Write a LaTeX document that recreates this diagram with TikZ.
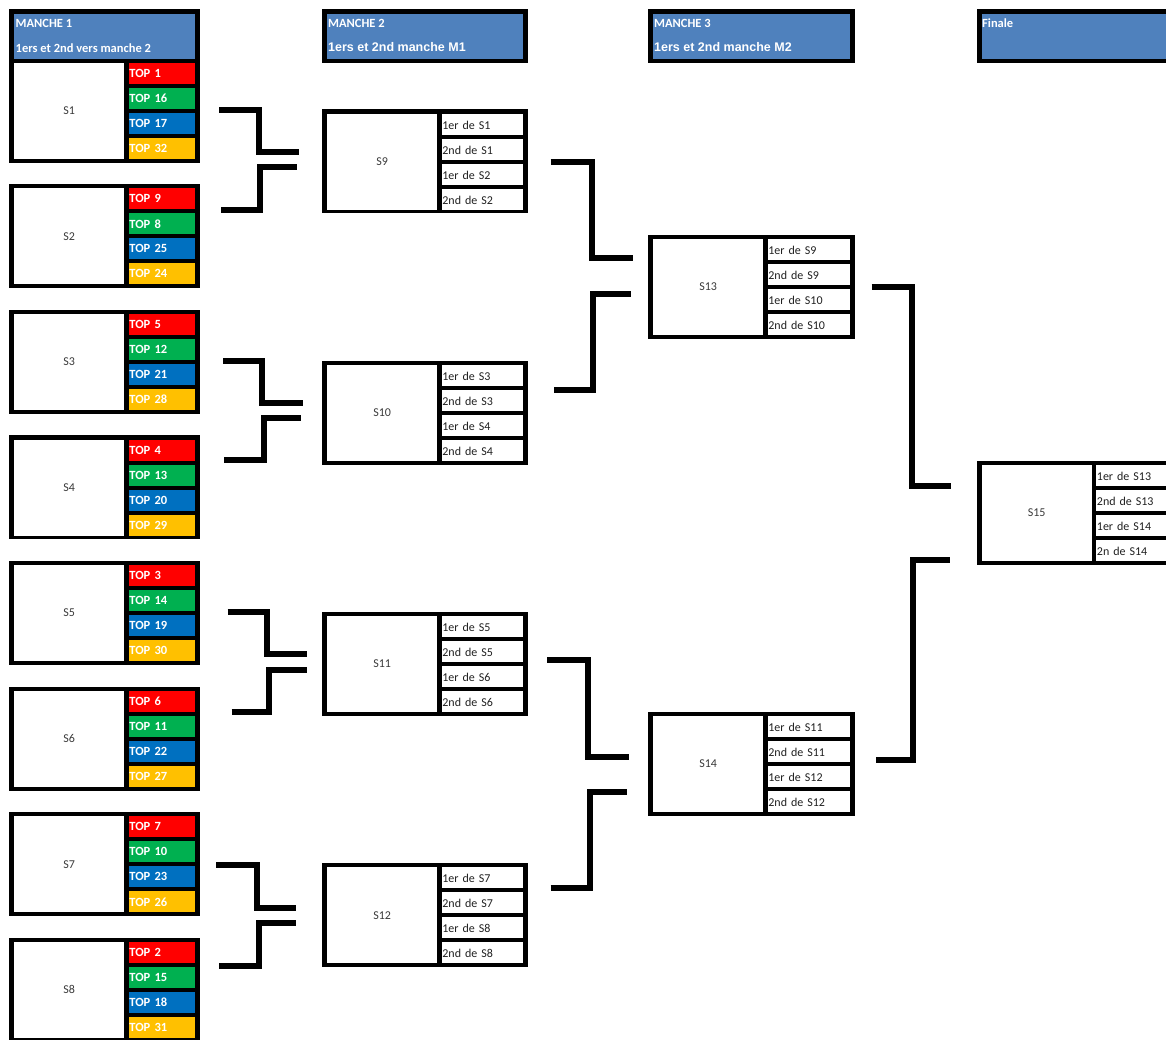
\documentclass[tikz,border=0pt]{standalone}
\usepackage{fontspec}
\setmainfont{Carlito}
\newfontfamily\hdfont{Liberation Sans}
\definecolor{hdblue}{HTML}{4F81BD}
\definecolor{cred}{HTML}{FF0000}
\definecolor{cgreen}{HTML}{00B050}
\definecolor{cblue}{HTML}{0070C0}
\definecolor{cyellow}{HTML}{FFC000}
\definecolor{lbl}{HTML}{3A3A3A}
\definecolor{celltxt}{HTML}{202020}
\tikzset{
  mainbox/.style={fill=white, draw=none, inner sep=0pt, anchor=north west,
    minimum width=110pt, minimum height=96pt, text=lbl,
    font=\fontsize{12}{14}\selectfont},
  cellbase/.style={draw=none, inner ysep=0pt, inner xsep=0.7pt, anchor=north west,
    minimum height=21pt, align=left},
  topcell/.style={cellbase, text=white, font=\bfseries\fontsize{12.5}{14}\selectfont},
  seedcell/.style={cellbase, text=celltxt, text height=10.5pt, text depth=0pt,
    font=\fontsize{12}{14}\selectfont},
  hdtxt/.style={anchor=west, inner sep=0pt, text=white, font=\bfseries\fontsize{12.5}{14}\selectfont},
  hdtxtb/.style={anchor=west, inner sep=0pt, text=white, font=\hdfont\bfseries\fontsize{12.5}{14}\selectfont},
  hdbox/.style={fill=hdblue, draw=none, inner sep=0pt, anchor=north west},
  conn/.style={line width=6pt, line join=miter, line cap=butt}
}
% #1 name, #2 x0, #3 y0, #4 x1, #5 label, #6 cell style, #7 list text/colour
\newcommand\blk[7]{%
  \fill[black] (#2,#3) rectangle (#4,{#3+104});
  \node[mainbox] (#1) at ({#2+5},{#3+4}) {#5};
  \pgfmathsetmacro\cw{#4-#2-124.5-1.4}
  \foreach \txt/\col [count=\i from 0] in {#7} {
    \node[#6, fill=\col, text width=\cw pt] (#1c\i) at ({#2+119.5},{#3+4+25*\i}) {\txt};
  }
}
% #1 name, #2 xa, #3 ya, #4 xm, #5 xb, #6 yb
\newcommand\bracket[6]{%
  \coordinate (#1s) at (#2,#3);
  \coordinate (#1e) at (#5,#6);
  \draw[conn] (#1s) -| (#4,#6) -- (#1e);
}
\begin{document}
\begin{tikzpicture}[x=1pt,y=-1pt]
\useasboundingbox (0,0) rectangle (1166,1039);
\clip (0,0) rectangle (1166,1039);
\fill[white] (0,0) rectangle (1166,1039);

% ---------- headers ----------
\fill[black] (9,9.3) rectangle (200,62.5);
\node[hdbox, minimum width=181pt, minimum height=45pt] (H1) at (14,13.3) {};
\node[hdtxt] (H1a) at (15.5,23.3) {MANCHE 1};
\node[hdtxt] (H1b) at (15.5,47.8) {1ers et 2nd vers manche 2};

\fill[black] (322,9.3) rectangle (528,62.7);
\node[hdbox, minimum width=196pt, minimum height=45.2pt] (H2) at (327,13.3) {};
\node[hdtxt] (H2a) at (328,23) {MANCHE 2};
\node[hdtxtb] (H2b) at (328,47) {1ers et 2nd manche M1};

\fill[black] (648,9.3) rectangle (855,62.7);
\node[hdbox, minimum width=197pt, minimum height=45.2pt] (H3) at (653,13.3) {};
\node[hdtxt] (H3a) at (654,23) {MANCHE 3};
\node[hdtxtb] (H3b) at (654,47) {1ers et 2nd manche M2};

\fill[black] (976.5,9.3) rectangle (1182,62.7);
\node[hdbox, minimum width=196pt, minimum height=45.2pt] (H4) at (981.5,13.3) {};
\node[hdtxt] (H4a) at (982,23) {Finale};

% ---------- round 1 ----------
\blk{S1}{9}{58.5}{200}{S1}{topcell}{TOP 1/cred, TOP 16/cgreen, TOP 17/cblue, TOP 32/cyellow}
\blk{S2}{9}{184.1}{200}{S2}{topcell}{TOP 9/cred, TOP 8/cgreen, TOP 25/cblue, TOP 24/cyellow}
\blk{S3}{9}{309.7}{200}{S3}{topcell}{TOP 5/cred, TOP 12/cgreen, TOP 21/cblue, TOP 28/cyellow}
\blk{S4}{9}{435.3}{200}{S4}{topcell}{TOP 4/cred, TOP 13/cgreen, TOP 20/cblue, TOP 29/cyellow}
\blk{S5}{9}{560.9}{200}{S5}{topcell}{TOP 3/cred, TOP 14/cgreen, TOP 19/cblue, TOP 30/cyellow}
\blk{S6}{9}{686.5}{200}{S6}{topcell}{TOP 6/cred, TOP 11/cgreen, TOP 22/cblue, TOP 27/cyellow}
\blk{S7}{9}{812.1}{200}{S7}{topcell}{TOP 7/cred, TOP 10/cgreen, TOP 23/cblue, TOP 26/cyellow}
\blk{S8}{9}{937.7}{200}{S8}{topcell}{TOP 2/cred, TOP 15/cgreen, TOP 18/cblue, TOP 31/cyellow}

% ---------- round 2 ----------
\blk{S9}{322}{109.3}{528}{S9}{seedcell}{1er de S1/white, 2nd de S1/white, 1er de S2/white, 2nd de S2/white}
\blk{S10}{322}{360.6}{528}{S10}{seedcell}{1er de S3/white, 2nd de S3/white, 1er de S4/white, 2nd de S4/white}
\blk{S11}{322}{611.8}{528}{S11}{seedcell}{1er de S5/white, 2nd de S5/white, 1er de S6/white, 2nd de S6/white}
\blk{S12}{322}{863}{528}{S12}{seedcell}{1er de S7/white, 2nd de S7/white, 1er de S8/white, 2nd de S8/white}

% ---------- round 3 ----------
\blk{S13}{648}{234.5}{855}{S13}{seedcell}{1er de S9/white, 2nd de S9/white, 1er de S10/white, 2nd de S10/white}
\blk{S14}{648}{711.7}{855}{S14}{seedcell}{1er de S11/white, 2nd de S11/white, 1er de S12/white, 2nd de S12/white}

% ---------- final ----------
\blk{S15}{976.5}{460.7}{1182}{S15}{seedcell}{1er de S13/white, 2nd de S13/white, 1er de S14/white, 2n de S14/white}

% ---------- connectors ----------
\bracket{c1t}{219}{109.7}{259}{299}{152}
\bracket{c1b}{221}{209.5}{260}{297}{167}
\bracket{c2t}{223}{360.8}{262}{302.5}{402.5}
\bracket{c2b}{224}{460.3}{264}{301}{417.8}
\bracket{c3t}{227.7}{611.7}{267.2}{306.7}{654.3}
\bracket{c3b}{231.7}{712}{269.2}{306.7}{669.8}
\bracket{c4t}{216}{865}{257}{296}{908}
\bracket{c4b}{219}{966.3}{258.8}{296}{923.3}

\bracket{d1t}{550.7}{161.7}{591.7}{632.7}{257.7}
\bracket{d1b}{554}{389.7}{593.3}{631}{293.7}
\bracket{d2t}{547}{660}{588.3}{629}{756.7}
\bracket{d2b}{550.7}{887.8}{589.7}{627}{791.7}

\bracket{e1t}{871.7}{286.7}{911.7}{950.7}{486}
\bracket{e1b}{876}{759.5}{913.3}{950}{560.3}
\end{tikzpicture}
\end{document}
